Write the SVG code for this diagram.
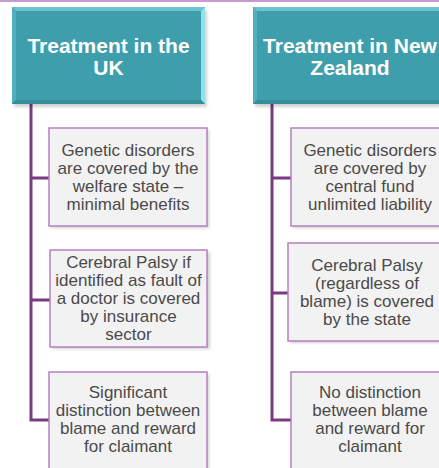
<svg xmlns="http://www.w3.org/2000/svg" width="439" height="468" viewBox="0 0 439 468">
<style>
.hdr{fill:#3f9eab}
.bt{fill:#6cc3cd}
.bl{fill:#52b0bc}
.br{fill:#8fe3ea}
.bb{fill:#348d99}
.ht{font-family:"Liberation Sans",Arial,sans-serif;font-weight:bold;font-size:21px;fill:#ffffff;text-anchor:middle}
.box{fill:#f2f2f2;stroke:#b47fc0;stroke-width:1.5}
.sh{fill:#000;opacity:0.18}
.bx{font-family:"Liberation Sans",Arial,sans-serif;font-size:17px;fill:#4a4a4a;text-anchor:middle}
.con{fill:none;stroke:#7a3a80;stroke-width:3}
</style>
<defs>
<filter id="blur" x="-10%" y="-10%" width="120%" height="120%"><feGaussianBlur stdDeviation="1.5"/></filter>
</defs>
<rect x="0" y="0" width="439" height="468" fill="#ffffff"/>
<line x1="0" y1="1" x2="439" y2="1" stroke="#c99ad0" stroke-width="2"/>
<g id="connectors">
<path class="con" d="M31,104 V420 H50 M31,178 H50 M31,300 H50"/>
<path class="con" d="M272,104 V420 H292 M272,178 H292 M272,293 H290"/>
</g>
<g id="uk-header">
<rect class="sh" x="14" y="10" width="193" height="97" filter="url(#blur)"/>
<rect class="hdr" x="12" y="7" width="193" height="97"/>
<polygon class="bt" points="12,7 205,7 201,11 16,11"/>
<polygon class="bl" points="12,7 16,11 16,100 12,104"/>
<polygon class="br" points="205,7 205,104 201,100 201,11"/>
<polygon class="bb" points="12,104 205,104 201,100 16,100"/>
<text class="ht" x="108.5" y="53">Treatment in the</text>
<text class="ht" x="108.5" y="75">UK</text>
</g>
<g id="nz-header">
<rect class="sh" x="255" y="10" width="193" height="97" filter="url(#blur)"/>
<rect class="hdr" x="253" y="7" width="193" height="97"/>
<polygon class="bt" points="253,7 446,7 442,11 257,11"/>
<polygon class="bl" points="253,7 257,11 257,100 253,104"/>
<polygon class="br" points="446,7 446,104 442,100 442,11"/>
<polygon class="bb" points="253,104 446,104 442,100 257,100"/>
<text class="ht" x="350" y="53">Treatment in New</text>
<text class="ht" x="350" y="75">Zealand</text>
</g>
<g id="uk-1">
<rect class="sh" x="51" y="130" width="158" height="98" filter="url(#blur)"/>
<rect class="box" x="49" y="128" width="158" height="98"/>
<text class="bx" x="128" y="156">Genetic disorders</text>
<text class="bx" x="128" y="174">are covered by the</text>
<text class="bx" x="128" y="192">welfare state –</text>
<text class="bx" x="128" y="210">minimal benefits</text>
</g>
<g id="uk-2">
<rect class="sh" x="52" y="252" width="158" height="97" filter="url(#blur)"/>
<rect class="box" x="50" y="250" width="157" height="97"/>
<text class="bx" x="128.5" y="268">Cerebral Palsy if</text>
<text class="bx" x="128.5" y="286">identified as fault of</text>
<text class="bx" x="128.5" y="304">a doctor is covered</text>
<text class="bx" x="128.5" y="322">by insurance</text>
<text class="bx" x="128.5" y="340">sector</text>
</g>
<g id="uk-3">
<rect class="sh" x="51" y="374" width="158" height="98" filter="url(#blur)"/>
<rect class="box" x="49" y="372" width="158" height="98"/>
<text class="bx" x="128" y="398">Significant</text>
<text class="bx" x="128" y="416">distinction between</text>
<text class="bx" x="128" y="434">blame and reward</text>
<text class="bx" x="128" y="452">for claimant</text>
</g>
<g id="nz-1">
<rect class="sh" x="293" y="130" width="158" height="98" filter="url(#blur)"/>
<rect class="box" x="291" y="128" width="158" height="98"/>
<text class="bx" x="370" y="156">Genetic disorders</text>
<text class="bx" x="370" y="174">are covered by</text>
<text class="bx" x="370" y="192">central fund</text>
<text class="bx" x="370" y="210">unlimited liability</text>
</g>
<g id="nz-2">
<rect class="sh" x="290" y="245" width="158" height="98" filter="url(#blur)"/>
<rect class="box" x="288" y="243" width="158" height="98"/>
<text class="bx" x="367" y="271">Cerebral Palsy</text>
<text class="bx" x="367" y="289">(regardless of</text>
<text class="bx" x="367" y="307">blame) is covered</text>
<text class="bx" x="367" y="325">by the state</text>
</g>
<g id="nz-3">
<rect class="sh" x="293" y="374" width="158" height="98" filter="url(#blur)"/>
<rect class="box" x="291" y="372" width="158" height="98"/>
<text class="bx" x="370" y="398">No distinction</text>
<text class="bx" x="370" y="416">between blame</text>
<text class="bx" x="370" y="434">and reward for</text>
<text class="bx" x="370" y="452">claimant</text>
</g>
</svg>
